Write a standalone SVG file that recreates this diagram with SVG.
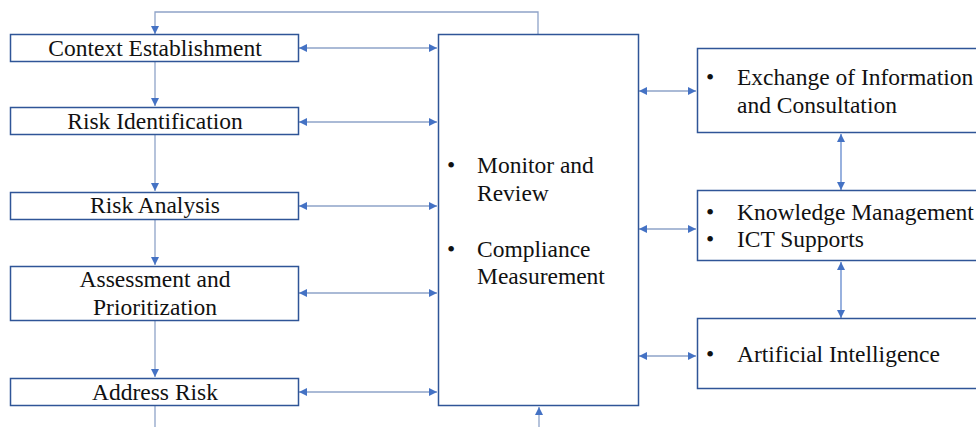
<svg xmlns="http://www.w3.org/2000/svg" width="976" height="427" viewBox="0 0 976 427">
<defs>
<marker id="ah" viewBox="0 0 10 10" refX="10" refY="5" markerWidth="8" markerHeight="8" markerUnits="userSpaceOnUse" orient="auto-start-reverse">
<path d="M0,0 L10,5 L0,10 z" fill="#4472C4"/>
</marker>
<style>
.box{fill:#fff;stroke:#2F5597;stroke-width:1.5}
.ln{fill:none;stroke:#8EA3C8;stroke-width:1.3}
.ln2{fill:none;stroke:#4472C4;stroke-width:1.1}
.t{font-family:'Liberation Serif','Times New Roman','DejaVu Serif',serif;font-size:23.5px;fill:#111}
.c{text-anchor:middle}
</style>
</defs>
<rect width="976" height="427" fill="#fff"/>
<g id="connectors">
<path class="ln" d="M538,34 V12 H155 V34" marker-end="url(#ah)"/>
<path class="ln" d="M155,62 V106" marker-end="url(#ah)"/>
<path class="ln" d="M155,135 V191" marker-end="url(#ah)"/>
<path class="ln" d="M155,220 V265" marker-end="url(#ah)"/>
<path class="ln" d="M155,321 V377" marker-end="url(#ah)"/>
<path class="ln" d="M155,406 V427"/>
<path class="ln" d="M539,427 V407" marker-end="url(#ah)"/>
<path class="ln" d="M299,48 H437" marker-start="url(#ah)" marker-end="url(#ah)"/>
<path class="ln" d="M299,122 H437" marker-start="url(#ah)" marker-end="url(#ah)"/>
<path class="ln" d="M299,206 H437" marker-start="url(#ah)" marker-end="url(#ah)"/>
<path class="ln" d="M299,293 H437" marker-start="url(#ah)" marker-end="url(#ah)"/>
<path class="ln" d="M299,392 H437" marker-start="url(#ah)" marker-end="url(#ah)"/>
<path class="ln" d="M639,91 H696" marker-start="url(#ah)" marker-end="url(#ah)"/>
<path class="ln" d="M639,229 H696" marker-start="url(#ah)" marker-end="url(#ah)"/>
<path class="ln" d="M639,356 H696" marker-start="url(#ah)" marker-end="url(#ah)"/>
<path class="ln2" d="M841,134 V190" marker-start="url(#ah)" marker-end="url(#ah)"/>
<path class="ln2" d="M841,262 V318" marker-start="url(#ah)" marker-end="url(#ah)"/>
</g>
<g id="context">
<rect class="box" x="10.5" y="34.5" width="288" height="27"/>
<text class="t c" x="155" y="56">Context Establishment</text>
</g>
<g id="identification">
<rect class="box" x="10.5" y="107.5" width="288" height="27"/>
<text class="t c" x="155" y="129">Risk Identification</text>
</g>
<g id="analysis">
<rect class="box" x="10.5" y="192.5" width="288" height="27"/>
<text class="t c" x="155" y="213">Risk Analysis</text>
</g>
<g id="assessment">
<rect class="box" x="10.5" y="266.5" width="288" height="54"/>
<text class="t c" x="155" y="287">Assessment and</text>
<text class="t c" x="155" y="315">Prioritization</text>
</g>
<g id="address">
<rect class="box" x="10.5" y="378.5" width="288" height="27"/>
<text class="t c" x="155" y="400">Address Risk</text>
</g>
<g id="monitor">
<rect class="box" x="438.5" y="34.5" width="200" height="371"/>
<text class="t" x="447" y="173">•</text>
<text class="t" x="477" y="173">Monitor and</text>
<text class="t" x="477" y="201">Review</text>
<text class="t" x="447" y="257">•</text>
<text class="t" x="477" y="257">Compliance</text>
<text class="t" x="477" y="284">Measurement</text>
</g>
<g id="exchange">
<rect class="box" x="697.5" y="48.5" width="300" height="84"/>
<text class="t" x="706" y="85">•</text>
<text class="t" x="737" y="85">Exchange of Information</text>
<text class="t" x="737" y="113">and Consultation</text>
</g>
<g id="knowledge">
<rect class="box" x="697.5" y="190.5" width="300" height="70"/>
<text class="t" x="706" y="220">•</text>
<text class="t" x="737" y="220">Knowledge Management</text>
<text class="t" x="706" y="247">•</text>
<text class="t" x="737" y="247">ICT Supports</text>
</g>
<g id="ai">
<rect class="box" x="697.5" y="318.5" width="300" height="70"/>
<text class="t" x="706" y="362">•</text>
<text class="t" x="737" y="362">Artificial Intelligence</text>
</g>
</svg>
